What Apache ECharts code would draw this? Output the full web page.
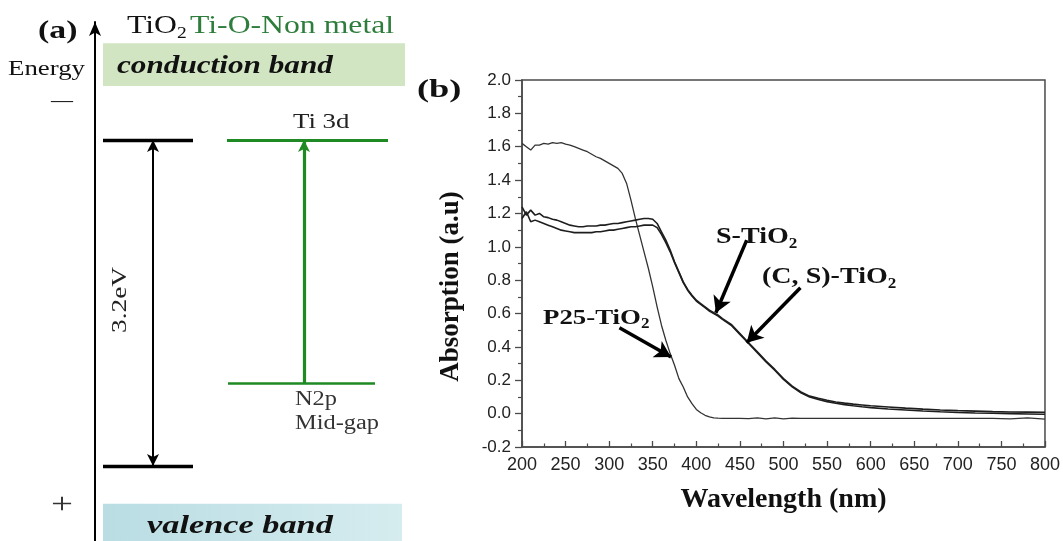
<!DOCTYPE html>
<html><head><meta charset="utf-8">
<script src="https://cdn.jsdelivr.net/npm/echarts@6/dist/echarts.min.js"></script>
<style>html,body{margin:0;padding:0;background:#fff}#c{width:1063px;height:541px}</style>
</head><body><div id="c"></div>
<script>
// ---------- Panel (b) data: UV-vis absorption spectra ----------
const wavelength = [
  200,205,210,215,220,225,230,235,240,245,
  250,255,260,265,270,275,280,285,290,295,
  300,305,310,315,320,325,330,335,340,345,
  350,355,360,365,370,375,380,385,390,395,
  400,405,410,415,420,425,430,
  440,450,460,470,480,490,500,510,520,530,540,550,560,570,580,590,600,
  620,640,660,680,700,720,740,760,780,800
];
const p25TiO2 = [
  1.62,1.60,1.58,1.61,1.61,1.62,1.615,1.625,1.62,1.625,
  1.615,1.61,1.60,1.59,1.58,1.57,1.555,1.54,1.53,1.515,
  1.50,1.485,1.47,1.44,1.38,1.28,1.17,1.07,0.97,0.87,
  0.76,0.64,0.53,0.44,0.36,0.29,0.21,0.16,0.10,0.06,
  0.025,0.005,-0.01,-0.02,-0.025,-0.027,-0.028,
  -0.028,-0.028,-0.030,-0.026,-0.032,-0.025,-0.031,-0.027,-0.028,-0.028,-0.028,-0.028,-0.028,-0.028,-0.028,-0.028,-0.028,
  -0.028,-0.028,-0.028,-0.028,-0.028,-0.028,-0.028,-0.032,-0.025,-0.033
];
const sTiO2 = [
  1.24,1.19,1.22,1.19,1.20,1.18,1.175,1.165,1.16,1.15,
  1.14,1.13,1.125,1.12,1.12,1.125,1.125,1.125,1.13,1.13,
  1.135,1.14,1.14,1.145,1.15,1.155,1.16,1.165,1.17,1.17,
  1.165,1.14,1.09,1.04,0.98,0.91,0.85,0.79,0.745,0.71,
  0.68,0.66,0.64,0.62,0.605,0.59,0.57,
  0.535,0.48,0.425,0.37,0.315,0.265,0.21,0.165,0.13,0.105,0.092,0.08,0.07,0.063,0.057,0.052,0.047,
  0.04,0.033,0.027,0.022,0.018,0.015,0.012,0.01,0.009,0.008
];
const csTiO2 = [
  1.17,1.21,1.15,1.16,1.15,1.14,1.13,1.12,1.11,1.10,
  1.095,1.09,1.085,1.085,1.085,1.085,1.085,1.09,1.09,1.095,
  1.10,1.10,1.105,1.11,1.115,1.12,1.12,1.125,1.13,1.13,
  1.13,1.115,1.075,1.025,0.97,0.905,0.845,0.785,0.74,0.705,
  0.675,0.655,0.635,0.615,0.60,0.585,0.565,
  0.53,0.475,0.42,0.365,0.31,0.26,0.205,0.16,0.125,0.10,0.085,0.072,0.062,0.054,0.047,0.041,0.036,
  0.028,0.022,0.016,0.011,0.007,0.004,0.002,0.0,-0.002,-0.004
];
// annotation arrows (tail -> tip) in data coordinates [nm, a.u.]
const arrowS   = [[457.8, 1.04], [422.4, 0.605]];
const arrowCS  = [[519.4, 0.755], [457.8, 0.425]];
const arrowP25 = [[311.8, 0.515], [371.0, 0.34]];

// ---------- Panel (a) data: band diagram (energies in eV, VB edge = 0) ----------
const bandGapEV = 3.2;
const midGapEV = 0.81;
const cbBandEV = [3.73, 4.15];
const vbBandEV = [-0.74, -0.37];

// ---------- layout ----------
const serif = "'Liberation Serif','Times New Roman',serif";
const sans = "'Liberation Sans',Arial,sans-serif";
const green = '#1f8a24';
const colA = { tio2: [8, 98], tio2Arrow: 58, ti3d: [132, 293], n2p: [133, 280], greenArrow: 209, cb: [8, 310], vb: [8, 307] };

function pairs(xs, ys) { return xs.map((x, i) => [x, ys[i]]); }
function seg(a, b, style, sym) {
  const o = [{ coord: a, lineStyle: style }, { coord: b }];
  if (sym) { o[0].symbol = sym[0]; o[1].symbol = sym[1]; }
  return o;
}
function txt(x, y, text, o) {
  o = o || {};
  const fs = o.size || 20;
  const st = {
    text: text, fill: o.color || '#111', fontFamily: serif, fontSize: fs,
    fontWeight: o.weight || 'normal', fontStyle: o.style || 'normal',
    align: o.align || 'left', verticalAlign: 'middle'
  };
  if (text.indexOf('{') >= 0) {
    const base = { fontFamily: serif, fontWeight: o.weight || 'normal', fontStyle: o.style || 'normal', fill: o.color || '#111' };
    st.rich = {
      m: Object.assign({}, base, { fontSize: fs, lineHeight: Math.round(fs * 1.2) }),
      s: Object.assign({}, base, { fontSize: Math.round(fs * 0.62), lineHeight: Math.round(fs * 0.52), verticalAlign: 'bottom' })
    };
  }
  return { type: 'text', x: x, y: y, scaleX: o.sx || 1.22, rotation: o.rot || 0, z: 100, style: st, silent: true };
}

const chart = echarts.init(document.getElementById('c'), null, { renderer: 'canvas' });
const axisCol = '#4a4a4a';
chart.setOption({
  animation: false,
  backgroundColor: '#fff',
  grid: [
    { left: 522, top: 80, right: 15, bottom: 94, show: true, borderColor: axisCol, borderWidth: 1.5, containLabel: false },
    { left: 95, top: 22, width: 325, bottom: 0, containLabel: false }
  ],
  xAxis: [
    {
      gridIndex: 0, type: 'value', min: 200, max: 800, interval: 50,
      axisLine: { onZero: false, lineStyle: { color: axisCol, width: 1.5 } },
      axisTick: { inside: true, length: 6, lineStyle: { color: axisCol, width: 1.3 } },
      minorTick: { show: true, splitNumber: 2, length: 3.5, lineStyle: { color: axisCol, width: 1.2 } },
      splitLine: { show: false }, minorSplitLine: { show: false },
      axisLabel: { fontFamily: sans, fontSize: 18, color: '#222', margin: 9 },
      name: 'Wavelength (nm)', nameLocation: 'middle', nameGap: 39,
      nameTextStyle: { fontFamily: serif, fontWeight: 'bold', fontSize: 28, color: '#111' }
    },
    { gridIndex: 1, type: 'value', min: 0, max: 325, show: false }
  ],
  yAxis: [
    {
      gridIndex: 0, type: 'value', min: -0.2, max: 2.0, interval: 0.2,
      axisLine: { show: true, onZero: false, lineStyle: { color: axisCol, width: 1.5 } },
      axisTick: { show: true, inside: false, length: 7, lineStyle: { color: axisCol, width: 1.3 } },
      minorTick: { show: true, splitNumber: 2, length: 4, lineStyle: { color: axisCol, width: 1.2 } },
      splitLine: { show: false }, minorSplitLine: { show: false },
      axisLabel: { fontFamily: sans, fontSize: 17, color: '#222', margin: 11, formatter: v => v.toFixed(1) },
      name: 'Absorption (a.u)', nameLocation: 'middle', nameRotate: 90, nameGap: 57,
      nameTextStyle: { fontFamily: serif, fontWeight: 'bold', fontSize: 27, color: '#111', padding: [0, 46, 0, 0] }
    },
    {
      gridIndex: 1, type: 'value', min: -0.736, max: 4.358,
      axisLine: { show: true, onZero: false, symbol: ['none', 'arrow'], symbolSize: [9, 14], lineStyle: { color: '#000', width: 2 } },
      axisTick: { show: false }, axisLabel: { show: false }, splitLine: { show: false }
    }
  ],
  series: [
    {
      name: 'P25-TiO2', type: 'line', xAxisIndex: 0, yAxisIndex: 0, data: pairs(wavelength, p25TiO2),
      symbol: 'none', lineStyle: { color: '#333', width: 1.3 }, z: 3
    },
    {
      name: '(C, S)-TiO2', type: 'line', xAxisIndex: 0, yAxisIndex: 0, data: pairs(wavelength, csTiO2),
      symbol: 'none', lineStyle: { color: '#1e1e1e', width: 1.6 }, z: 3
    },
    {
      name: 'S-TiO2', type: 'line', xAxisIndex: 0, yAxisIndex: 0, data: pairs(wavelength, sTiO2),
      symbol: 'none', lineStyle: { color: '#1e1e1e', width: 1.6 }, z: 3,
      markLine: {
        silent: true, symbol: ['none', 'arrow'], symbolSize: [14, 16], label: { show: false },
        lineStyle: { color: '#000', width: 3.5, type: 'solid' }, z: 10,
        data: [
          [{ coord: arrowS[0] }, { coord: arrowS[1] }],
          [{ coord: arrowCS[0] }, { coord: arrowCS[1] }],
          [{ coord: arrowP25[0] }, { coord: arrowP25[1] }]
        ]
      }
    },
    {
      name: 'band diagram', type: 'line', xAxisIndex: 1, yAxisIndex: 1, data: [], symbol: 'none',
      markArea: {
        silent: true, label: { show: false },
        data: [
          [{ coord: [colA.cb[0], cbBandEV[1]], itemStyle: { color: '#d2e5c2' } }, { coord: [colA.cb[1], cbBandEV[0]] }],
          [{ coord: [colA.vb[0], vbBandEV[1]], itemStyle: { color: new echarts.graphic.LinearGradient(0, 0, 1, 0, [{ offset: 0, color: '#b9dde3' }, { offset: 1, color: '#d6ecef' }]) } },
           { coord: [colA.vb[1], vbBandEV[0]] }]
        ]
      },
      markLine: {
        silent: true, symbol: 'none', label: { show: false }, z: 10,
        lineStyle: { type: 'solid' },
        data: [
          seg([colA.tio2[0], bandGapEV], [colA.tio2[1], bandGapEV], { color: '#000', width: 3.3, type: 'solid' }),
          seg([colA.tio2[0], 0], [colA.tio2[1], 0], { color: '#000', width: 3.3, type: 'solid' }),
          seg([colA.ti3d[0], bandGapEV], [colA.ti3d[1], bandGapEV], { color: green, width: 3, type: 'solid' }),
          seg([colA.n2p[0], midGapEV], [colA.n2p[1], midGapEV], { color: green, width: 2.5, type: 'solid' }),
          seg([colA.tio2Arrow, bandGapEV], [colA.tio2Arrow, 0], { color: '#000', width: 2, type: 'solid' }, ['arrow', 'arrow']),
          seg([colA.greenArrow, midGapEV], [colA.greenArrow, bandGapEV], { color: green, width: 3.2, type: 'solid' }, ['none', 'arrow'])
        ],
        symbolSize: [9, 12]
      }
    }
  ],
  graphic: [
    txt(38, 31, '(a)', { size: 26, weight: 'bold', sx: 1.3 }),
    txt(127, 26, '{m|TiO}{s|2}', { size: 26 }),
    txt(190, 26, 'Ti-O-Non metal', { size: 26, color: '#2e7d3c' }),
    txt(8, 69, 'Energy', { size: 22 }),
    txt(117, 66, 'conduction band', { size: 26, weight: 'bold', style: 'italic', sx: 1.2 }),
    txt(62, 101, '\u2014', { size: 22, align: 'center', sx: 1 }),
    txt(293, 122, 'Ti 3d', { size: 22, color: '#222' }),
    txt(295, 400, 'N2p', { size: 20, color: '#333' }),
    txt(295, 424, 'Mid-gap', { size: 20, color: '#333' }),
    txt(120, 300, '3.2eV', { size: 21, align: 'center', sx: 1.3, rot: Math.PI / 2, color: '#222' }),
    txt(62, 505, '+', { size: 30, align: 'center', sx: 1.3, color: '#333' }),
    txt(147, 526, 'valence band', { size: 26, weight: 'bold', style: 'italic', sx: 1.32 }),
    txt(417, 90, '(b)', { size: 26, weight: 'bold', sx: 1.4 }),
    txt(716, 237, '{m|S-TiO}{s|2}', { size: 23, weight: 'bold' }),
    txt(762, 277, '{m|(C, S)-TiO}{s|2}', { size: 23, weight: 'bold' }),
    txt(543, 318, '{m|P25-TiO}{s|2}', { size: 22, weight: 'bold' })
  ]
});
</script></body></html>
